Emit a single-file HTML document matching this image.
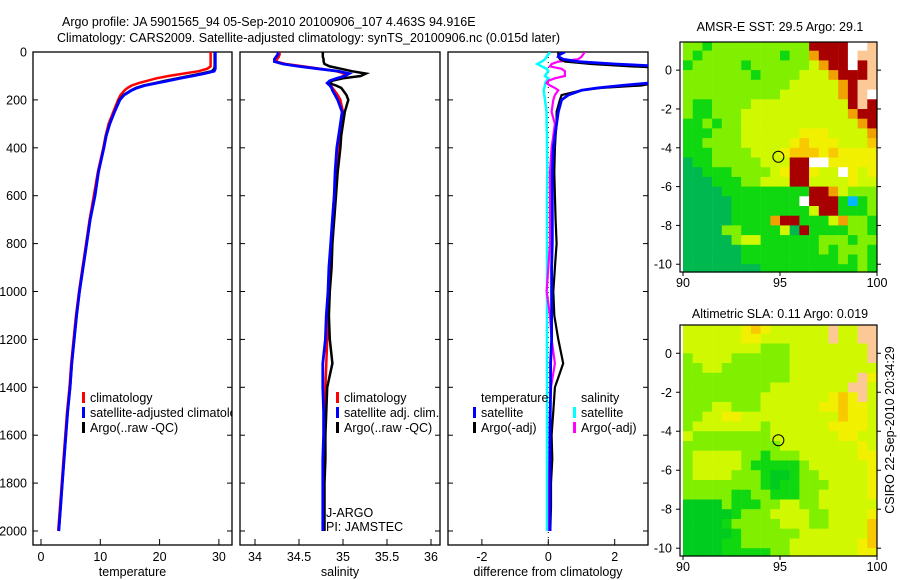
<!DOCTYPE html>
<html><head><meta charset="utf-8"><style>
html,body{margin:0;padding:0;background:#fff}
svg{display:block;font-family:"Liberation Sans",sans-serif}
text{font-size:12.5px;fill:#000}
</style></head><body>
<svg id="fig" width="900" height="580" viewBox="0 0 900 580" xmlns="http://www.w3.org/2000/svg">
<defs>
<clipPath id="c1"><rect x="33" y="52" width="199" height="493"/></clipPath>
<clipPath id="c2"><rect x="240" y="52" width="200" height="493"/></clipPath>
<clipPath id="c3"><rect x="448" y="52" width="200" height="493"/></clipPath>
</defs>
<text x="62" y="26">Argo profile: JA 5901565_94 05-Sep-2010 20100906_107 4.463S 94.916E</text>
<text x="57" y="42">Climatology: CARS2009. Satellite-adjusted climatology: synTS_20100906.nc (0.015d later)</text>
<g id="p1"></g>
<g id="p2"></g>
<g id="p3"></g>
<g id="m1"></g>
<g id="m2"></g>
<text transform="translate(894,430) rotate(-90)" text-anchor="middle">CSIRO 22-Sep-2010 20:34:29</text>
</svg>
<script>
const depth=[0,10,20,30,40,50,60,70,80,90,100,110,120,130,140,150,160,180,200,250,300,350,400,500,600,700,800,900,1000,1100,1200,1300,1400,1500,1600,1700,1800,1900,2000];
const tempClim=[28.6,28.6,28.6,28.6,28.6,28.6,28.6,28.0,26.6,24,21.5,19.5,18,16.5,15.3,14.6,14.1,13.4,13.0,12.2,11.4,10.9,10.5,9.6,8.9,8.2,7.6,7.0,6.4,5.9,5.5,5.1,4.8,4.4,4.1,3.8,3.5,3.2,2.9];
const tempSat=[29.4,29.4,29.4,29.4,29.4,29.4,29.4,29.4,29.2,27.5,25.5,23.5,21.5,19.5,17.5,16.2,15.3,14.0,13.3,12.4,11.6,11.0,10.6,9.7,9.1,8.3,7.7,7.1,6.5,6.0,5.6,5.2,4.9,4.5,4.2,3.9,3.6,3.3,3.0];
const tempArgo=[29.3,29.3,29.3,29.3,29.3,29.3,29.3,29.2,28.8,27,25,23,21,19.2,17.3,16,15.2,13.9,13.2,12.4,11.6,11.0,10.6,9.7,9.1,8.3,7.7,7.1,6.5,6.0,5.6,5.2,4.9,4.5,4.2,3.9,3.6,3.3,3.0];
const salClim=[34.28,34.28,34.27,34.25,34.24,34.35,34.55,34.75,34.92,35.02,35.0,34.95,34.88,34.84,34.86,34.88,34.9,34.94,34.97,35.0,34.98,34.96,34.95,34.92,34.9,34.88,34.87,34.85,34.84,34.83,34.82,34.81,34.8,34.8,34.79,34.79,34.78,34.78,34.78];
const salSat=[34.26,34.26,34.24,34.22,34.22,34.32,34.5,34.72,34.95,35.07,35.02,34.93,34.85,34.82,34.85,34.87,34.88,34.91,34.94,34.99,34.97,34.95,34.93,34.91,34.9,34.88,34.86,34.84,34.83,34.81,34.8,34.77,34.77,34.78,34.78,34.77,34.77,34.77,34.77];
const salArgo=[34.77,34.77,34.77,34.78,34.78,34.79,34.85,34.98,35.1,35.26,35.2,35.0,34.88,34.84,34.92,34.98,35.0,35.04,35.06,35.02,35.0,34.98,34.97,34.94,34.92,34.9,34.88,34.87,34.85,34.84,34.85,34.88,34.82,34.81,34.8,34.8,34.79,34.79,34.79];
const dTempSat=[0.5,0.35,0.3,0.45,0.9,2.0,3.5,4,4,4,4,4.5,4,3,2.2,1.5,1.0,0.6,0.4,0.3,0.25,0.2,0.15,0.12,0.12,0.12,0.12,0.1,0.1,0.1,0.1,0.07,0.07,0.06,0.05,0.05,0.05,0.05,0.05];
const dTempArgo=[0.3,0.3,0.3,0.35,0.5,1.3,2.5,4,3.5,4,4,4,4,3.2,2.8,1.6,1.0,0.4,0.35,0.25,0.25,0.22,0.2,0.18,0.2,0.22,0.25,0.2,0.15,0.18,0.3,0.45,0.2,0.15,0.1,0.12,0.08,0.08,0.06];
const dSalArgo=[1.1,1.05,1.0,0.9,0.3,0.1,0.05,0.4,0.5,0.5,0.5,0.2,0.0,-0.05,0.05,0.2,0.3,0.2,0.15,0.1,0.2,0.15,0.1,0.05,0.05,0.05,0.05,0.0,-0.05,0.05,0.1,0.2,0.08,0.05,0.04,0.03,0.02,0.02,0.02];
const dSalSat=[0.05,0.0,-0.05,-0.1,-0.2,-0.33,-0.2,-0.05,0.0,-0.05,-0.1,0,-0.05,-0.1,-0.1,-0.12,-0.14,-0.12,-0.1,-0.05,-0.05,-0.04,-0.04,-0.03,-0.04,-0.04,-0.04,-0.04,-0.04,-0.04,-0.04,-0.04,-0.04,-0.04,-0.04,-0.04,-0.04,-0.04,-0.04];
const depthTicks=[0,200,400,600,800,1000,1200,1400,1600,1800,2000];
const tempTicks=[0,10,20,30];
const salTicks=[34,34.5,35,35.5,36];
const diffTicks=[-2,0,2];
const mapLonTicks=[90,95,100];
const mapLatTicks=[0,-2,-4,-6,-8,-10];
const sstGrid=[
"GGgGGGGGGGGGGrrrrwwl","GgGGGGGGGGgGGOrrrwll","gGGGGGgGGGGGGyOrrwrl","GGGGGGGgGGGGyyyOrrrl",
"GGGGGGGGGGGyyyyyOrll","GGGGGGGGGGyyyyyyOrlw","GggGGGGyyyyyyyyyyrlr","GggGGGyyyyyyyyyyyOrr",
"ggGgGGyyyyyyyyyyyyOr","gggGGGyyyyyyYYYyyyyO","ggGGGGyyyyyYoYYYyyyo","gggGGGGyyyYoooYoYYYY",
"aggGGGGGyyyrrwwYYYYY","aagggGGGGyYrrYyywYyY","aaagggGGyyyrryyyyYyy","aaaagggggggggrrOyGGG",
"aaaaagggggggwrrrgcgG","aaaaaggggggggyrrgggG","aaaaaggggOrrgggyOGGg","aaaaGGggggyarggggGGg",
"aaaaaGyyggggggGGGgGG","aaaaaaggggggggGgGGGg","aaaaaaggggggggggGgGg","aaaaaaaaggggggggggGg"];
const slaGrid=[
"yyyyyyYoYyyyyyylyyll","yyyyyyYYyyyyyyylyyll","yyyyyyyyGGGyyyyyyyyl","GyyyyGGGGGGyyyyyyyyl",
"GGyyGGGGGGGyyyyyyyyy","GGGGGGGGGGGyyyyyyylY","GGGGGGGGGyyyyyyyylly","GGGGGGGGyyyyyyyYoYly",
"GGGyyGGGyyyyyyYYoYYy","GGyyYYyyyyyyyyyyoYYy","GyyyyyyyGyyyyyyYYYYy","yGGGGGGGGyyyyyyyYYyy",
"GGGGGGGGGGyyyyyyyyYy","GyyyyyGGgGGGyyyyyyYY","GyyyyyGgggggGyyyyyyY","GyyyyGGGgddgGGyyyyyY",
"GGGGGGGGgdggGGGyyyyY","GGGGGggGGgggGGyyyyyY","ddddGgggGGyyGGyyyyyy","dddddgGGGyyyyGGyyyyY",
"ddddgGGGGGyyyGGyyyyo","dddddgGGGGGGyyyyyyyo","ddddggGGGGGyyyyyyyYo","ddddgggggGGyyyyyyyYY"];
const NS="http://www.w3.org/2000/svg";
function mk(tag,attrs,parent,txt){const e=document.createElementNS(NS,tag);for(const k in attrs)e.setAttribute(k,attrs[k]);if(txt!==undefined)e.textContent=txt;parent.appendChild(e);return e;}
const yD=d=>52+(d/2000)*479;
function panel(g,x0,x1,xf,ticks,fmt,label,clip){
  const fr=mk('rect',{x:x0,y:52,width:x1-x0,height:493,fill:'none',stroke:'#000','stroke-width':1.3},g);
  
  
  ticks.forEach(t=>{const x=xf(t);
    const l=mk('line',{x1:x,x2:x,y1:545,y2:539,stroke:'#000'},g);
    
    
    const tx=mk('text',{x:x,y:561,'text-anchor':'middle'},g,fmt(t));
    
    });
  depthTicks.forEach(d=>{const y=yD(d);
    const l=mk('line',{x1:x0,x2:x0+5,y1:y,y2:y,stroke:'#000'},g);
    
    
    const r=mk('line',{x1:x1,x2:x1-5,y1:y,y2:y,stroke:'#000'},g);
    
    });
  const al=mk('text',{x:(x0+x1)/2,y:576,'text-anchor':'middle'},g,label);
  
  
}
function series(g,xf,vals,color,w,clip,name){
  const pts=vals.map((v,i)=>xf(v).toFixed(1)+','+yD(depth[i]).toFixed(1)).join(' ');
  const p=mk('polyline',{points:pts,fill:'none',stroke:color,'stroke-width':w,'clip-path':'url(#'+clip+')'},g);
  
  
}
function legend(g,x,y,color,txt,name){
  const r=mk('rect',{x:x,y:y-10,width:3,height:11,fill:color},g);
  
  
  const t=mk('text',{x:x+8,y:y},g,txt);
  
  
}
// panel 1
const p1=document.getElementById('p1');
const xT=t=>41+t*5.93;
depthTicks.forEach(d=>{const t=mk('text',{x:27,y:yD(d)+4.5,'text-anchor':'end'},p1,String(d));
  
  });
panel(p1,33,232,xT,tempTicks,String,'temperature','c1');
series(p1,xT,tempClim,'#f00',2.5,'c1','temp-climatology-line');
series(p1,xT,tempArgo,'#000',2.5,'c1','temp-argo-line');
series(p1,xT,tempSat,'#00f',2.8,'c1','temp-satellite-line');
const lg1=mk('g',{'clip-path':'url(#c1)'},p1);
legend(lg1,82,402,'#f00','climatology','legend-climatology');
legend(lg1,82,417,'#00f','satellite-adjusted climatology','legend-satellite');
legend(lg1,82,432,'#000','Argo(..raw -QC)','legend-argo');
// panel 2
const p2=document.getElementById('p2');
const xS=s=>255+(s-34)*88;
panel(p2,240,440,xS,salTicks,String,'salinity','c2');
series(p2,xS,salClim,'#f00',2.5,'c2','sal-climatology-line');
series(p2,xS,salArgo,'#000',2.5,'c2','sal-argo-line');
series(p2,xS,salSat,'#00f',2.8,'c2','sal-satellite-line');
legend(p2,336,402,'#f00','climatology','legend-climatology-sal');
legend(p2,336,417,'#00f','satellite adj. clim.','legend-satellite-sal');
legend(p2,336,432,'#000','Argo(..raw -QC)','legend-argo-sal');
const ja=mk('text',{x:326,y:517},p2,'J-ARGO');


const pi=mk('text',{x:326,y:531},p2,'PI: JAMSTEC');


// panel 3
const p3=document.getElementById('p3');
const xDf=v=>548.3+v*33.2;
panel(p3,448,648,xDf,diffTicks,String,'difference from climatology','c3');
const zl=mk('line',{x1:xDf(0),x2:xDf(0),y1:52,y2:545,stroke:'#000','stroke-dasharray':'1,4'},p3);


series(p3,xDf,dSalSat,'#0ff',2.5,'c3','sal-satellite-diff-line');
series(p3,xDf,dSalArgo,'#f0f',2.2,'c3','sal-argo-diff-line');
series(p3,xDf,dTempArgo,'#000',2.2,'c3','temp-argo-diff-line');
series(p3,xDf,dTempSat,'#00f',2.8,'c3','temp-satellite-diff-line');
const ht=mk('text',{x:481,y:402},p3,'temperature');


const hs=mk('text',{x:581,y:402},p3,'salinity');


legend(p3,473,417,'#00f','satellite','legend-temp-satellite');
legend(p3,473,432,'#000','Argo(-adj)','legend-temp-argo');
legend(p3,573,417,'#0ff','satellite','legend-sal-satellite');
legend(p3,573,432,'#f0f','Argo(-adj)','legend-sal-argo');
// maps
const pal={a:'#00b850',g:'#10d810',G:'#80f000',y:'#d0f800',Y:'#f0f000',o:'#f8c800',O:'#f0a000',r:'#a80000',w:'#ffffff',l:'#fcc896',c:'#00b8ff',d:'#00cc20'};
function map(g,top,bot,grid,title,titleY,latTop){
  const X=lon=>683+(lon-90)*19.4;
  const lat0=top+(latTop-0)*((bot-top)/(latTop+10.4));
  const dy=(bot-top)/(latTop+10.4);
  const Y=lat=>lat0-lat*dy;
  grid.forEach((row,r)=>{for(let c=0;c<row.length;c++){
    const y1=Math.max(top,Y(1.5-0.5*r)),y2=Math.min(bot,Y(1.0-0.5*r));
    const cell=mk('rect',{x:X(90+0.5*c).toFixed(1),y:y1.toFixed(1),width:9.9,height:(y2-y1+0.6).toFixed(1),fill:pal[row[c]]},g);
    
    }});
  const fr=mk('rect',{x:680,y:top,width:197,height:bot-top,fill:'none',stroke:'#000','stroke-width':1.2},g);
  
  
  mapLonTicks.forEach(l=>{const x=X(l);
    const tk=mk('line',{x1:x,x2:x,y1:bot,y2:bot+4,stroke:'#000'},g);
    
    
    const t=mk('text',{x:x,y:bot+15,'text-anchor':'middle'},g,String(l));
    
    });
  mapLatTicks.forEach(l=>{const y=Y(l);
    const tk=mk('line',{x1:676,x2:680,y1:y,y2:y,stroke:'#000'},g);
    
    
    const tr=mk('line',{x1:877,x2:881,y1:y,y2:y,stroke:'#000'},g);
    
    
    const t=mk('text',{x:672,y:y+4.5,'text-anchor':'end'},g,String(l));
    
    });
  const ci=mk('circle',{cx:X(94.916),cy:Y(-4.463),r:5.5,fill:'none',stroke:'#000','stroke-width':1},g);
  
  
  const tt=mk('text',{x:780,y:titleY,'text-anchor':'middle'},g,title);
  
  
}
map(document.getElementById('m1'),42,272,sstGrid,'AMSR-E SST: 29.5 Argo: 29.1',31,1.45);
map(document.getElementById('m2'),325,556,slaGrid,'Altimetric SLA: 0.11 Argo: 0.019',318,1.45);
</script>
</svg>
</body></html>
